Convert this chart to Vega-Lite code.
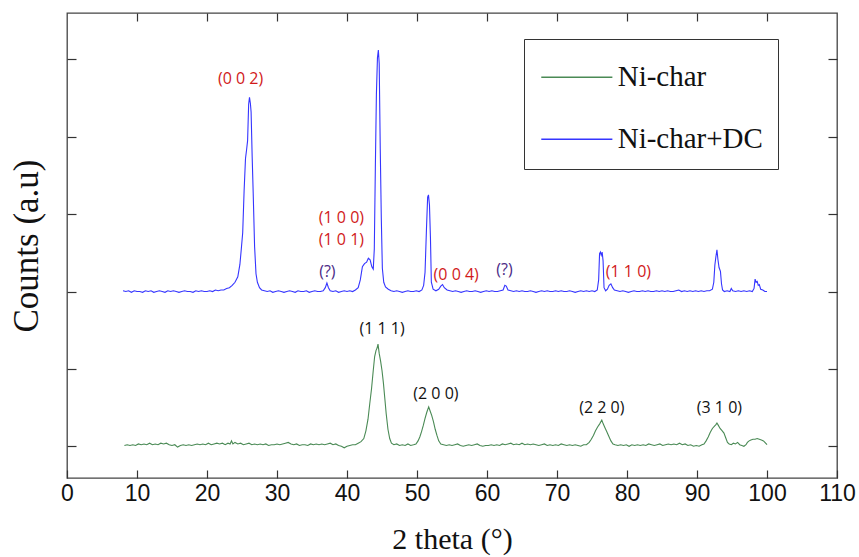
{
  "$schema": "https://vega.github.io/schema/vega-lite/v6.json",
  "autosize": {"type": "none"},
  "padding": {"left": 67, "top": 13, "right": 22, "bottom": 79},
  "width": 770,
  "height": 465,
  "background": "white",
  "config": {
    "view": {"stroke": "#444444", "strokeWidth": 1.3},
    "axis": {"domain": false, "grid": false, "tickColor": "#333333", "tickWidth": 1.2}
  },
  "datasets": {
    "annotations": [
      {"theta": 24.8, "counts": 4.75, "label": "(0 0 2)", "kind": "carbon"},
      {"theta": 39.2, "counts": 2.95, "label": "(1 0 0)", "kind": "carbon"},
      {"theta": 39.2, "counts": 2.67, "label": "(1 0 1)", "kind": "carbon"},
      {"theta": 37.2, "counts": 2.25, "label": "(?)", "kind": "unknown"},
      {"theta": 55.6, "counts": 2.21, "label": "(0 0 4)", "kind": "carbon"},
      {"theta": 62.5, "counts": 2.28, "label": "(?)", "kind": "unknown"},
      {"theta": 80.2, "counts": 2.25, "label": "(1 1 0)", "kind": "carbon"},
      {"theta": 45.0, "counts": 1.52, "label": "(1 1 1)", "kind": "nickel"},
      {"theta": 52.7, "counts": 0.68, "label": "(2 0 0)", "kind": "nickel"},
      {"theta": 76.4, "counts": 0.50, "label": "(2 2 0)", "kind": "nickel"},
      {"theta": 93.2, "counts": 0.50, "label": "(3 1 0)", "kind": "nickel"}
    ],
    "xrd": [
      {"theta":8.0,"counts":2.01,"sample":"Ni-char+DC"},{"theta":8.4,"counts":2.00,"sample":"Ni-char+DC"},{"theta":8.8,"counts":2.01,"sample":"Ni-char+DC"},{"theta":9.2,"counts":1.99,"sample":"Ni-char+DC"},{"theta":9.6,"counts":2.01,"sample":"Ni-char+DC"},{"theta":10.0,"counts":2.00,"sample":"Ni-char+DC"},{"theta":10.4,"counts":2.00,"sample":"Ni-char+DC"},{"theta":10.8,"counts":1.99,"sample":"Ni-char+DC"},{"theta":11.2,"counts":2.01,"sample":"Ni-char+DC"},{"theta":11.6,"counts":2.00,"sample":"Ni-char+DC"},{"theta":12.0,"counts":2.01,"sample":"Ni-char+DC"},{"theta":12.4,"counts":1.99,"sample":"Ni-char+DC"},{"theta":12.8,"counts":2.00,"sample":"Ni-char+DC"},{"theta":13.2,"counts":2.01,"sample":"Ni-char+DC"},{"theta":13.6,"counts":2.00,"sample":"Ni-char+DC"},{"theta":14.0,"counts":1.99,"sample":"Ni-char+DC"},{"theta":14.4,"counts":2.01,"sample":"Ni-char+DC"},{"theta":14.8,"counts":2.00,"sample":"Ni-char+DC"},{"theta":15.2,"counts":2.01,"sample":"Ni-char+DC"},{"theta":15.6,"counts":2.00,"sample":"Ni-char+DC"},{"theta":16.0,"counts":1.99,"sample":"Ni-char+DC"},{"theta":16.4,"counts":2.00,"sample":"Ni-char+DC"},{"theta":16.8,"counts":2.01,"sample":"Ni-char+DC"},{"theta":17.2,"counts":2.00,"sample":"Ni-char+DC"},{"theta":17.6,"counts":2.00,"sample":"Ni-char+DC"},{"theta":18.0,"counts":1.99,"sample":"Ni-char+DC"},{"theta":18.4,"counts":2.01,"sample":"Ni-char+DC"},{"theta":18.8,"counts":2.00,"sample":"Ni-char+DC"},{"theta":19.2,"counts":2.01,"sample":"Ni-char+DC"},{"theta":19.6,"counts":2.00,"sample":"Ni-char+DC"},{"theta":20.0,"counts":2.00,"sample":"Ni-char+DC"},{"theta":20.4,"counts":2.01,"sample":"Ni-char+DC"},{"theta":20.8,"counts":2.00,"sample":"Ni-char+DC"},{"theta":21.2,"counts":2.02,"sample":"Ni-char+DC"},{"theta":21.6,"counts":2.01,"sample":"Ni-char+DC"},{"theta":22.0,"counts":2.02,"sample":"Ni-char+DC"},{"theta":22.4,"counts":2.02,"sample":"Ni-char+DC"},{"theta":22.8,"counts":2.04,"sample":"Ni-char+DC"},{"theta":23.2,"counts":2.05,"sample":"Ni-char+DC"},{"theta":23.6,"counts":2.08,"sample":"Ni-char+DC"},{"theta":24.0,"counts":2.12,"sample":"Ni-char+DC"},{"theta":24.4,"counts":2.19,"sample":"Ni-char+DC"},{"theta":24.7,"counts":2.35,"sample":"Ni-char+DC"},{"theta":24.9,"counts":2.55,"sample":"Ni-char+DC"},{"theta":25.1,"counts":2.76,"sample":"Ni-char+DC"},{"theta":25.3,"counts":3.30,"sample":"Ni-char+DC"},{"theta":25.5,"counts":3.72,"sample":"Ni-char+DC"},{"theta":25.65,"counts":3.83,"sample":"Ni-char+DC"},{"theta":25.8,"counts":3.95,"sample":"Ni-char+DC"},{"theta":25.95,"counts":4.42,"sample":"Ni-char+DC"},{"theta":26.07,"counts":4.51,"sample":"Ni-char+DC"},{"theta":26.2,"counts":4.43,"sample":"Ni-char+DC"},{"theta":26.3,"counts":4.32,"sample":"Ni-char+DC"},{"theta":26.45,"counts":3.75,"sample":"Ni-char+DC"},{"theta":26.6,"counts":3.27,"sample":"Ni-char+DC"},{"theta":26.8,"counts":2.58,"sample":"Ni-char+DC"},{"theta":27.0,"counts":2.23,"sample":"Ni-char+DC"},{"theta":27.2,"counts":2.12,"sample":"Ni-char+DC"},{"theta":27.5,"counts":2.05,"sample":"Ni-char+DC"},{"theta":27.8,"counts":2.02,"sample":"Ni-char+DC"},{"theta":28.2,"counts":2.01,"sample":"Ni-char+DC"},{"theta":28.6,"counts":2.00,"sample":"Ni-char+DC"},{"theta":29.0,"counts":2.01,"sample":"Ni-char+DC"},{"theta":29.4,"counts":1.99,"sample":"Ni-char+DC"},{"theta":29.8,"counts":2.00,"sample":"Ni-char+DC"},{"theta":30.2,"counts":2.01,"sample":"Ni-char+DC"},{"theta":30.6,"counts":2.00,"sample":"Ni-char+DC"},{"theta":31.0,"counts":1.99,"sample":"Ni-char+DC"},{"theta":31.4,"counts":2.00,"sample":"Ni-char+DC"},{"theta":31.8,"counts":2.01,"sample":"Ni-char+DC"},{"theta":32.2,"counts":2.00,"sample":"Ni-char+DC"},{"theta":32.6,"counts":1.99,"sample":"Ni-char+DC"},{"theta":33.0,"counts":2.01,"sample":"Ni-char+DC"},{"theta":33.4,"counts":2.00,"sample":"Ni-char+DC"},{"theta":33.8,"counts":2.00,"sample":"Ni-char+DC"},{"theta":34.2,"counts":2.01,"sample":"Ni-char+DC"},{"theta":34.6,"counts":1.99,"sample":"Ni-char+DC"},{"theta":35.0,"counts":2.00,"sample":"Ni-char+DC"},{"theta":35.4,"counts":2.01,"sample":"Ni-char+DC"},{"theta":35.8,"counts":2.00,"sample":"Ni-char+DC"},{"theta":36.2,"counts":2.00,"sample":"Ni-char+DC"},{"theta":36.6,"counts":2.01,"sample":"Ni-char+DC"},{"theta":36.9,"counts":2.05,"sample":"Ni-char+DC"},{"theta":37.13,"counts":2.11,"sample":"Ni-char+DC"},{"theta":37.35,"counts":2.05,"sample":"Ni-char+DC"},{"theta":37.6,"counts":2.01,"sample":"Ni-char+DC"},{"theta":38.0,"counts":2.00,"sample":"Ni-char+DC"},{"theta":38.4,"counts":2.01,"sample":"Ni-char+DC"},{"theta":38.8,"counts":1.99,"sample":"Ni-char+DC"},{"theta":39.2,"counts":2.00,"sample":"Ni-char+DC"},{"theta":39.6,"counts":2.01,"sample":"Ni-char+DC"},{"theta":40.0,"counts":2.00,"sample":"Ni-char+DC"},{"theta":40.4,"counts":2.01,"sample":"Ni-char+DC"},{"theta":40.8,"counts":2.00,"sample":"Ni-char+DC"},{"theta":41.2,"counts":2.02,"sample":"Ni-char+DC"},{"theta":41.6,"counts":2.05,"sample":"Ni-char+DC"},{"theta":41.9,"counts":2.15,"sample":"Ni-char+DC"},{"theta":42.2,"counts":2.32,"sample":"Ni-char+DC"},{"theta":42.5,"counts":2.36,"sample":"Ni-char+DC"},{"theta":42.8,"counts":2.38,"sample":"Ni-char+DC"},{"theta":43.05,"counts":2.43,"sample":"Ni-char+DC"},{"theta":43.3,"counts":2.41,"sample":"Ni-char+DC"},{"theta":43.55,"counts":2.32,"sample":"Ni-char+DC"},{"theta":43.75,"counts":2.29,"sample":"Ni-char+DC"},{"theta":43.9,"counts":2.55,"sample":"Ni-char+DC"},{"theta":44.05,"counts":3.60,"sample":"Ni-char+DC"},{"theta":44.2,"counts":4.55,"sample":"Ni-char+DC"},{"theta":44.35,"counts":5.02,"sample":"Ni-char+DC"},{"theta":44.48,"counts":5.12,"sample":"Ni-char+DC"},{"theta":44.6,"counts":4.95,"sample":"Ni-char+DC"},{"theta":44.75,"counts":3.85,"sample":"Ni-char+DC"},{"theta":44.9,"counts":2.95,"sample":"Ni-char+DC"},{"theta":45.05,"counts":2.30,"sample":"Ni-char+DC"},{"theta":45.25,"counts":2.12,"sample":"Ni-char+DC"},{"theta":45.5,"counts":2.06,"sample":"Ni-char+DC"},{"theta":45.9,"counts":2.03,"sample":"Ni-char+DC"},{"theta":46.3,"counts":2.01,"sample":"Ni-char+DC"},{"theta":46.7,"counts":2.00,"sample":"Ni-char+DC"},{"theta":47.1,"counts":2.01,"sample":"Ni-char+DC"},{"theta":47.5,"counts":2.00,"sample":"Ni-char+DC"},{"theta":47.9,"counts":1.99,"sample":"Ni-char+DC"},{"theta":48.3,"counts":2.00,"sample":"Ni-char+DC"},{"theta":48.7,"counts":2.01,"sample":"Ni-char+DC"},{"theta":49.1,"counts":2.00,"sample":"Ni-char+DC"},{"theta":49.5,"counts":2.00,"sample":"Ni-char+DC"},{"theta":49.9,"counts":2.01,"sample":"Ni-char+DC"},{"theta":50.3,"counts":2.00,"sample":"Ni-char+DC"},{"theta":50.7,"counts":2.02,"sample":"Ni-char+DC"},{"theta":50.95,"counts":2.08,"sample":"Ni-char+DC"},{"theta":51.15,"counts":2.25,"sample":"Ni-char+DC"},{"theta":51.35,"counts":2.80,"sample":"Ni-char+DC"},{"theta":51.52,"counts":3.22,"sample":"Ni-char+DC"},{"theta":51.64,"counts":3.25,"sample":"Ni-char+DC"},{"theta":51.78,"counts":3.12,"sample":"Ni-char+DC"},{"theta":51.92,"counts":2.70,"sample":"Ni-char+DC"},{"theta":52.05,"counts":2.12,"sample":"Ni-char+DC"},{"theta":52.3,"counts":2.03,"sample":"Ni-char+DC"},{"theta":52.7,"counts":2.01,"sample":"Ni-char+DC"},{"theta":53.1,"counts":2.03,"sample":"Ni-char+DC"},{"theta":53.4,"counts":2.07,"sample":"Ni-char+DC"},{"theta":53.65,"counts":2.09,"sample":"Ni-char+DC"},{"theta":53.9,"counts":2.05,"sample":"Ni-char+DC"},{"theta":54.3,"counts":2.02,"sample":"Ni-char+DC"},{"theta":54.7,"counts":2.01,"sample":"Ni-char+DC"},{"theta":55.1,"counts":2.00,"sample":"Ni-char+DC"},{"theta":55.5,"counts":2.01,"sample":"Ni-char+DC"},{"theta":55.9,"counts":2.00,"sample":"Ni-char+DC"},{"theta":56.3,"counts":1.99,"sample":"Ni-char+DC"},{"theta":56.7,"counts":2.00,"sample":"Ni-char+DC"},{"theta":57.1,"counts":2.01,"sample":"Ni-char+DC"},{"theta":57.5,"counts":2.00,"sample":"Ni-char+DC"},{"theta":57.9,"counts":2.00,"sample":"Ni-char+DC"},{"theta":58.3,"counts":2.01,"sample":"Ni-char+DC"},{"theta":58.7,"counts":2.00,"sample":"Ni-char+DC"},{"theta":59.1,"counts":1.99,"sample":"Ni-char+DC"},{"theta":59.5,"counts":2.00,"sample":"Ni-char+DC"},{"theta":59.9,"counts":2.01,"sample":"Ni-char+DC"},{"theta":60.3,"counts":2.00,"sample":"Ni-char+DC"},{"theta":60.7,"counts":2.01,"sample":"Ni-char+DC"},{"theta":61.1,"counts":2.00,"sample":"Ni-char+DC"},{"theta":61.5,"counts":2.00,"sample":"Ni-char+DC"},{"theta":61.9,"counts":2.01,"sample":"Ni-char+DC"},{"theta":62.3,"counts":2.02,"sample":"Ni-char+DC"},{"theta":62.55,"counts":2.08,"sample":"Ni-char+DC"},{"theta":62.75,"counts":2.07,"sample":"Ni-char+DC"},{"theta":63.0,"counts":2.02,"sample":"Ni-char+DC"},{"theta":63.4,"counts":2.01,"sample":"Ni-char+DC"},{"theta":63.8,"counts":2.00,"sample":"Ni-char+DC"},{"theta":64.2,"counts":2.01,"sample":"Ni-char+DC"},{"theta":64.6,"counts":2.00,"sample":"Ni-char+DC"},{"theta":65.0,"counts":2.01,"sample":"Ni-char+DC"},{"theta":65.4,"counts":2.00,"sample":"Ni-char+DC"},{"theta":65.8,"counts":2.00,"sample":"Ni-char+DC"},{"theta":66.2,"counts":2.01,"sample":"Ni-char+DC"},{"theta":66.6,"counts":2.00,"sample":"Ni-char+DC"},{"theta":67.0,"counts":1.99,"sample":"Ni-char+DC"},{"theta":67.4,"counts":2.00,"sample":"Ni-char+DC"},{"theta":67.8,"counts":2.01,"sample":"Ni-char+DC"},{"theta":68.2,"counts":2.00,"sample":"Ni-char+DC"},{"theta":68.6,"counts":2.01,"sample":"Ni-char+DC"},{"theta":69.0,"counts":2.00,"sample":"Ni-char+DC"},{"theta":69.4,"counts":2.00,"sample":"Ni-char+DC"},{"theta":69.8,"counts":2.01,"sample":"Ni-char+DC"},{"theta":70.2,"counts":2.00,"sample":"Ni-char+DC"},{"theta":70.6,"counts":2.01,"sample":"Ni-char+DC"},{"theta":71.0,"counts":2.00,"sample":"Ni-char+DC"},{"theta":71.4,"counts":2.00,"sample":"Ni-char+DC"},{"theta":71.8,"counts":2.01,"sample":"Ni-char+DC"},{"theta":72.2,"counts":2.00,"sample":"Ni-char+DC"},{"theta":72.6,"counts":1.99,"sample":"Ni-char+DC"},{"theta":73.0,"counts":2.00,"sample":"Ni-char+DC"},{"theta":73.4,"counts":2.01,"sample":"Ni-char+DC"},{"theta":73.8,"counts":2.00,"sample":"Ni-char+DC"},{"theta":74.2,"counts":2.01,"sample":"Ni-char+DC"},{"theta":74.6,"counts":2.00,"sample":"Ni-char+DC"},{"theta":75.0,"counts":2.01,"sample":"Ni-char+DC"},{"theta":75.4,"counts":2.00,"sample":"Ni-char+DC"},{"theta":75.75,"counts":2.02,"sample":"Ni-char+DC"},{"theta":75.95,"counts":2.15,"sample":"Ni-char+DC"},{"theta":76.08,"counts":2.49,"sample":"Ni-char+DC"},{"theta":76.2,"counts":2.51,"sample":"Ni-char+DC"},{"theta":76.32,"counts":2.47,"sample":"Ni-char+DC"},{"theta":76.45,"counts":2.51,"sample":"Ni-char+DC"},{"theta":76.58,"counts":2.40,"sample":"Ni-char+DC"},{"theta":76.72,"counts":2.05,"sample":"Ni-char+DC"},{"theta":76.95,"counts":2.01,"sample":"Ni-char+DC"},{"theta":77.2,"counts":2.03,"sample":"Ni-char+DC"},{"theta":77.45,"counts":2.08,"sample":"Ni-char+DC"},{"theta":77.7,"counts":2.10,"sample":"Ni-char+DC"},{"theta":77.95,"counts":2.05,"sample":"Ni-char+DC"},{"theta":78.2,"counts":2.02,"sample":"Ni-char+DC"},{"theta":78.6,"counts":2.01,"sample":"Ni-char+DC"},{"theta":79.0,"counts":2.00,"sample":"Ni-char+DC"},{"theta":79.4,"counts":2.01,"sample":"Ni-char+DC"},{"theta":79.8,"counts":2.00,"sample":"Ni-char+DC"},{"theta":80.2,"counts":1.99,"sample":"Ni-char+DC"},{"theta":80.6,"counts":2.00,"sample":"Ni-char+DC"},{"theta":81.0,"counts":2.01,"sample":"Ni-char+DC"},{"theta":81.4,"counts":2.00,"sample":"Ni-char+DC"},{"theta":81.8,"counts":2.00,"sample":"Ni-char+DC"},{"theta":82.2,"counts":2.01,"sample":"Ni-char+DC"},{"theta":82.6,"counts":2.00,"sample":"Ni-char+DC"},{"theta":83.0,"counts":2.01,"sample":"Ni-char+DC"},{"theta":83.4,"counts":2.00,"sample":"Ni-char+DC"},{"theta":83.8,"counts":2.00,"sample":"Ni-char+DC"},{"theta":84.2,"counts":2.01,"sample":"Ni-char+DC"},{"theta":84.6,"counts":2.00,"sample":"Ni-char+DC"},{"theta":85.0,"counts":2.01,"sample":"Ni-char+DC"},{"theta":85.4,"counts":2.00,"sample":"Ni-char+DC"},{"theta":85.8,"counts":2.01,"sample":"Ni-char+DC"},{"theta":86.2,"counts":2.00,"sample":"Ni-char+DC"},{"theta":86.6,"counts":2.00,"sample":"Ni-char+DC"},{"theta":87.0,"counts":2.01,"sample":"Ni-char+DC"},{"theta":87.4,"counts":2.02,"sample":"Ni-char+DC"},{"theta":87.8,"counts":2.00,"sample":"Ni-char+DC"},{"theta":88.2,"counts":2.01,"sample":"Ni-char+DC"},{"theta":88.6,"counts":2.00,"sample":"Ni-char+DC"},{"theta":89.0,"counts":2.01,"sample":"Ni-char+DC"},{"theta":89.4,"counts":2.00,"sample":"Ni-char+DC"},{"theta":89.8,"counts":2.01,"sample":"Ni-char+DC"},{"theta":90.2,"counts":2.00,"sample":"Ni-char+DC"},{"theta":90.6,"counts":2.01,"sample":"Ni-char+DC"},{"theta":91.0,"counts":2.00,"sample":"Ni-char+DC"},{"theta":91.4,"counts":2.01,"sample":"Ni-char+DC"},{"theta":91.8,"counts":2.01,"sample":"Ni-char+DC"},{"theta":92.2,"counts":2.03,"sample":"Ni-char+DC"},{"theta":92.4,"counts":2.12,"sample":"Ni-char+DC"},{"theta":92.55,"counts":2.34,"sample":"Ni-char+DC"},{"theta":92.7,"counts":2.45,"sample":"Ni-char+DC"},{"theta":92.85,"counts":2.54,"sample":"Ni-char+DC"},{"theta":92.98,"counts":2.42,"sample":"Ni-char+DC"},{"theta":93.15,"counts":2.31,"sample":"Ni-char+DC"},{"theta":93.35,"counts":2.26,"sample":"Ni-char+DC"},{"theta":93.5,"counts":2.10,"sample":"Ni-char+DC"},{"theta":93.65,"counts":2.02,"sample":"Ni-char+DC"},{"theta":93.9,"counts":2.00,"sample":"Ni-char+DC"},{"theta":94.3,"counts":2.01,"sample":"Ni-char+DC"},{"theta":94.7,"counts":2.00,"sample":"Ni-char+DC"},{"theta":94.9,"counts":2.04,"sample":"Ni-char+DC"},{"theta":95.1,"counts":2.01,"sample":"Ni-char+DC"},{"theta":95.5,"counts":2.00,"sample":"Ni-char+DC"},{"theta":95.9,"counts":2.01,"sample":"Ni-char+DC"},{"theta":96.3,"counts":2.00,"sample":"Ni-char+DC"},{"theta":96.7,"counts":2.01,"sample":"Ni-char+DC"},{"theta":97.1,"counts":2.00,"sample":"Ni-char+DC"},{"theta":97.5,"counts":2.01,"sample":"Ni-char+DC"},{"theta":97.9,"counts":2.00,"sample":"Ni-char+DC"},{"theta":98.15,"counts":2.04,"sample":"Ni-char+DC"},{"theta":98.3,"counts":2.16,"sample":"Ni-char+DC"},{"theta":98.45,"counts":2.12,"sample":"Ni-char+DC"},{"theta":98.6,"counts":2.13,"sample":"Ni-char+DC"},{"theta":98.75,"counts":2.08,"sample":"Ni-char+DC"},{"theta":98.9,"counts":2.09,"sample":"Ni-char+DC"},{"theta":99.1,"counts":2.03,"sample":"Ni-char+DC"},{"theta":99.4,"counts":2.02,"sample":"Ni-char+DC"},{"theta":99.7,"counts":2.00,"sample":"Ni-char+DC"},{"theta":100.0,"counts":2.00,"sample":"Ni-char+DC"},
      {"theta":8.2,"counts":0.01,"sample":"Ni-char"},{"theta":8.6,"counts":0.02,"sample":"Ni-char"},{"theta":9.0,"counts":0.01,"sample":"Ni-char"},{"theta":9.4,"counts":0.02,"sample":"Ni-char"},{"theta":9.8,"counts":0.01,"sample":"Ni-char"},{"theta":10.2,"counts":0.03,"sample":"Ni-char"},{"theta":10.6,"counts":0.02,"sample":"Ni-char"},{"theta":11.0,"counts":0.03,"sample":"Ni-char"},{"theta":11.4,"counts":0.02,"sample":"Ni-char"},{"theta":11.8,"counts":0.04,"sample":"Ni-char"},{"theta":12.2,"counts":0.02,"sample":"Ni-char"},{"theta":12.6,"counts":0.03,"sample":"Ni-char"},{"theta":13.0,"counts":0.02,"sample":"Ni-char"},{"theta":13.4,"counts":0.04,"sample":"Ni-char"},{"theta":13.8,"counts":0.03,"sample":"Ni-char"},{"theta":14.2,"counts":0.04,"sample":"Ni-char"},{"theta":14.6,"counts":0.02,"sample":"Ni-char"},{"theta":15.0,"counts":0.01,"sample":"Ni-char"},{"theta":15.4,"counts":0.02,"sample":"Ni-char"},{"theta":15.8,"counts":-0.01,"sample":"Ni-char"},{"theta":16.2,"counts":0.01,"sample":"Ni-char"},{"theta":16.6,"counts":0.02,"sample":"Ni-char"},{"theta":17.0,"counts":0.01,"sample":"Ni-char"},{"theta":17.4,"counts":0.02,"sample":"Ni-char"},{"theta":17.8,"counts":0.01,"sample":"Ni-char"},{"theta":18.2,"counts":0.02,"sample":"Ni-char"},{"theta":18.6,"counts":0.03,"sample":"Ni-char"},{"theta":19.0,"counts":0.02,"sample":"Ni-char"},{"theta":19.4,"counts":0.03,"sample":"Ni-char"},{"theta":19.8,"counts":0.02,"sample":"Ni-char"},{"theta":20.2,"counts":0.04,"sample":"Ni-char"},{"theta":20.6,"counts":0.02,"sample":"Ni-char"},{"theta":21.0,"counts":0.03,"sample":"Ni-char"},{"theta":21.4,"counts":0.04,"sample":"Ni-char"},{"theta":21.8,"counts":0.03,"sample":"Ni-char"},{"theta":22.2,"counts":0.04,"sample":"Ni-char"},{"theta":22.6,"counts":0.02,"sample":"Ni-char"},{"theta":23.0,"counts":0.04,"sample":"Ni-char"},{"theta":23.3,"counts":0.03,"sample":"Ni-char"},{"theta":23.5,"counts":0.07,"sample":"Ni-char"},{"theta":23.7,"counts":0.03,"sample":"Ni-char"},{"theta":24.0,"counts":0.05,"sample":"Ni-char"},{"theta":24.4,"counts":0.03,"sample":"Ni-char"},{"theta":24.8,"counts":0.04,"sample":"Ni-char"},{"theta":25.2,"counts":0.02,"sample":"Ni-char"},{"theta":25.6,"counts":0.03,"sample":"Ni-char"},{"theta":26.0,"counts":0.04,"sample":"Ni-char"},{"theta":26.4,"counts":0.02,"sample":"Ni-char"},{"theta":26.8,"counts":0.03,"sample":"Ni-char"},{"theta":27.2,"counts":0.02,"sample":"Ni-char"},{"theta":27.6,"counts":0.03,"sample":"Ni-char"},{"theta":28.0,"counts":0.02,"sample":"Ni-char"},{"theta":28.4,"counts":0.03,"sample":"Ni-char"},{"theta":28.8,"counts":0.01,"sample":"Ni-char"},{"theta":29.2,"counts":0.02,"sample":"Ni-char"},{"theta":29.6,"counts":0.02,"sample":"Ni-char"},{"theta":30.0,"counts":0.03,"sample":"Ni-char"},{"theta":30.4,"counts":0.02,"sample":"Ni-char"},{"theta":30.8,"counts":0.03,"sample":"Ni-char"},{"theta":31.2,"counts":0.04,"sample":"Ni-char"},{"theta":31.6,"counts":0.05,"sample":"Ni-char"},{"theta":32.0,"counts":0.03,"sample":"Ni-char"},{"theta":32.4,"counts":0.02,"sample":"Ni-char"},{"theta":32.8,"counts":0.03,"sample":"Ni-char"},{"theta":33.2,"counts":0.01,"sample":"Ni-char"},{"theta":33.6,"counts":0.02,"sample":"Ni-char"},{"theta":34.0,"counts":0.02,"sample":"Ni-char"},{"theta":34.4,"counts":0.01,"sample":"Ni-char"},{"theta":34.8,"counts":0.03,"sample":"Ni-char"},{"theta":35.2,"counts":0.02,"sample":"Ni-char"},{"theta":35.6,"counts":0.03,"sample":"Ni-char"},{"theta":36.0,"counts":0.02,"sample":"Ni-char"},{"theta":36.4,"counts":0.03,"sample":"Ni-char"},{"theta":36.8,"counts":0.02,"sample":"Ni-char"},{"theta":37.2,"counts":0.03,"sample":"Ni-char"},{"theta":37.6,"counts":0.04,"sample":"Ni-char"},{"theta":38.0,"counts":0.02,"sample":"Ni-char"},{"theta":38.4,"counts":0.03,"sample":"Ni-char"},{"theta":38.8,"counts":0.01,"sample":"Ni-char"},{"theta":39.2,"counts":0.00,"sample":"Ni-char"},{"theta":39.6,"counts":-0.02,"sample":"Ni-char"},{"theta":40.0,"counts":0.00,"sample":"Ni-char"},{"theta":40.4,"counts":0.01,"sample":"Ni-char"},{"theta":40.8,"counts":0.02,"sample":"Ni-char"},{"theta":41.2,"counts":0.02,"sample":"Ni-char"},{"theta":41.6,"counts":0.04,"sample":"Ni-char"},{"theta":42.0,"counts":0.06,"sample":"Ni-char"},{"theta":42.4,"counts":0.10,"sample":"Ni-char"},{"theta":42.7,"counts":0.20,"sample":"Ni-char"},{"theta":43.0,"counts":0.35,"sample":"Ni-char"},{"theta":43.25,"counts":0.55,"sample":"Ni-char"},{"theta":43.5,"counts":0.74,"sample":"Ni-char"},{"theta":43.75,"counts":0.98,"sample":"Ni-char"},{"theta":43.95,"counts":1.16,"sample":"Ni-char"},{"theta":44.15,"counts":1.24,"sample":"Ni-char"},{"theta":44.3,"counts":1.27,"sample":"Ni-char"},{"theta":44.43,"counts":1.32,"sample":"Ni-char"},{"theta":44.6,"counts":1.20,"sample":"Ni-char"},{"theta":44.8,"counts":1.10,"sample":"Ni-char"},{"theta":45.0,"counts":0.98,"sample":"Ni-char"},{"theta":45.2,"counts":0.82,"sample":"Ni-char"},{"theta":45.4,"counts":0.62,"sample":"Ni-char"},{"theta":45.6,"counts":0.42,"sample":"Ni-char"},{"theta":45.85,"counts":0.22,"sample":"Ni-char"},{"theta":46.1,"counts":0.10,"sample":"Ni-char"},{"theta":46.35,"counts":0.04,"sample":"Ni-char"},{"theta":46.7,"counts":0.02,"sample":"Ni-char"},{"theta":47.1,"counts":0.03,"sample":"Ni-char"},{"theta":47.5,"counts":0.01,"sample":"Ni-char"},{"theta":47.9,"counts":0.02,"sample":"Ni-char"},{"theta":48.3,"counts":0.01,"sample":"Ni-char"},{"theta":48.7,"counts":0.03,"sample":"Ni-char"},{"theta":49.1,"counts":0.01,"sample":"Ni-char"},{"theta":49.5,"counts":0.02,"sample":"Ni-char"},{"theta":49.85,"counts":0.03,"sample":"Ni-char"},{"theta":50.15,"counts":0.07,"sample":"Ni-char"},{"theta":50.4,"counts":0.12,"sample":"Ni-char"},{"theta":50.65,"counts":0.19,"sample":"Ni-char"},{"theta":50.9,"counts":0.27,"sample":"Ni-char"},{"theta":51.15,"counts":0.36,"sample":"Ni-char"},{"theta":51.4,"counts":0.44,"sample":"Ni-char"},{"theta":51.67,"counts":0.51,"sample":"Ni-char"},{"theta":51.9,"counts":0.45,"sample":"Ni-char"},{"theta":52.1,"counts":0.40,"sample":"Ni-char"},{"theta":52.35,"counts":0.32,"sample":"Ni-char"},{"theta":52.6,"counts":0.22,"sample":"Ni-char"},{"theta":52.85,"counts":0.14,"sample":"Ni-char"},{"theta":53.1,"counts":0.07,"sample":"Ni-char"},{"theta":53.4,"counts":0.03,"sample":"Ni-char"},{"theta":53.8,"counts":0.02,"sample":"Ni-char"},{"theta":54.2,"counts":0.01,"sample":"Ni-char"},{"theta":54.6,"counts":0.02,"sample":"Ni-char"},{"theta":55.0,"counts":0.01,"sample":"Ni-char"},{"theta":55.4,"counts":0.02,"sample":"Ni-char"},{"theta":55.8,"counts":0.03,"sample":"Ni-char"},{"theta":56.2,"counts":0.01,"sample":"Ni-char"},{"theta":56.6,"counts":0.00,"sample":"Ni-char"},{"theta":57.0,"counts":0.01,"sample":"Ni-char"},{"theta":57.4,"counts":0.02,"sample":"Ni-char"},{"theta":57.8,"counts":0.01,"sample":"Ni-char"},{"theta":58.2,"counts":0.02,"sample":"Ni-char"},{"theta":58.6,"counts":0.03,"sample":"Ni-char"},{"theta":59.0,"counts":0.01,"sample":"Ni-char"},{"theta":59.4,"counts":0.00,"sample":"Ni-char"},{"theta":59.8,"counts":0.01,"sample":"Ni-char"},{"theta":60.2,"counts":0.01,"sample":"Ni-char"},{"theta":60.6,"counts":0.02,"sample":"Ni-char"},{"theta":61.0,"counts":0.01,"sample":"Ni-char"},{"theta":61.4,"counts":0.02,"sample":"Ni-char"},{"theta":61.8,"counts":0.01,"sample":"Ni-char"},{"theta":62.2,"counts":0.03,"sample":"Ni-char"},{"theta":62.6,"counts":0.02,"sample":"Ni-char"},{"theta":63.0,"counts":0.03,"sample":"Ni-char"},{"theta":63.4,"counts":0.04,"sample":"Ni-char"},{"theta":63.8,"counts":0.02,"sample":"Ni-char"},{"theta":64.2,"counts":0.03,"sample":"Ni-char"},{"theta":64.6,"counts":0.02,"sample":"Ni-char"},{"theta":65.0,"counts":0.04,"sample":"Ni-char"},{"theta":65.4,"counts":0.02,"sample":"Ni-char"},{"theta":65.8,"counts":0.03,"sample":"Ni-char"},{"theta":66.2,"counts":0.02,"sample":"Ni-char"},{"theta":66.6,"counts":0.03,"sample":"Ni-char"},{"theta":67.0,"counts":0.02,"sample":"Ni-char"},{"theta":67.4,"counts":0.01,"sample":"Ni-char"},{"theta":67.8,"counts":0.02,"sample":"Ni-char"},{"theta":68.2,"counts":0.03,"sample":"Ni-char"},{"theta":68.6,"counts":0.01,"sample":"Ni-char"},{"theta":69.0,"counts":0.02,"sample":"Ni-char"},{"theta":69.4,"counts":0.01,"sample":"Ni-char"},{"theta":69.8,"counts":0.02,"sample":"Ni-char"},{"theta":70.2,"counts":0.01,"sample":"Ni-char"},{"theta":70.6,"counts":0.03,"sample":"Ni-char"},{"theta":71.0,"counts":0.02,"sample":"Ni-char"},{"theta":71.4,"counts":0.01,"sample":"Ni-char"},{"theta":71.8,"counts":0.02,"sample":"Ni-char"},{"theta":72.2,"counts":0.01,"sample":"Ni-char"},{"theta":72.6,"counts":0.02,"sample":"Ni-char"},{"theta":73.0,"counts":0.01,"sample":"Ni-char"},{"theta":73.4,"counts":0.00,"sample":"Ni-char"},{"theta":73.8,"counts":0.02,"sample":"Ni-char"},{"theta":74.2,"counts":0.02,"sample":"Ni-char"},{"theta":74.6,"counts":0.05,"sample":"Ni-char"},{"theta":74.9,"counts":0.09,"sample":"Ni-char"},{"theta":75.2,"counts":0.14,"sample":"Ni-char"},{"theta":75.5,"counts":0.20,"sample":"Ni-char"},{"theta":75.8,"counts":0.25,"sample":"Ni-char"},{"theta":76.1,"counts":0.29,"sample":"Ni-char"},{"theta":76.4,"counts":0.34,"sample":"Ni-char"},{"theta":76.6,"counts":0.29,"sample":"Ni-char"},{"theta":76.85,"counts":0.24,"sample":"Ni-char"},{"theta":77.1,"counts":0.19,"sample":"Ni-char"},{"theta":77.4,"counts":0.13,"sample":"Ni-char"},{"theta":77.7,"counts":0.07,"sample":"Ni-char"},{"theta":78.0,"counts":0.03,"sample":"Ni-char"},{"theta":78.3,"counts":0.02,"sample":"Ni-char"},{"theta":78.7,"counts":0.01,"sample":"Ni-char"},{"theta":79.1,"counts":0.02,"sample":"Ni-char"},{"theta":79.5,"counts":0.01,"sample":"Ni-char"},{"theta":79.9,"counts":0.02,"sample":"Ni-char"},{"theta":80.3,"counts":0.00,"sample":"Ni-char"},{"theta":80.7,"counts":0.02,"sample":"Ni-char"},{"theta":81.1,"counts":0.01,"sample":"Ni-char"},{"theta":81.5,"counts":0.02,"sample":"Ni-char"},{"theta":81.9,"counts":0.01,"sample":"Ni-char"},{"theta":82.3,"counts":0.02,"sample":"Ni-char"},{"theta":82.7,"counts":0.01,"sample":"Ni-char"},{"theta":83.1,"counts":0.03,"sample":"Ni-char"},{"theta":83.5,"counts":0.02,"sample":"Ni-char"},{"theta":83.9,"counts":0.01,"sample":"Ni-char"},{"theta":84.3,"counts":0.02,"sample":"Ni-char"},{"theta":84.7,"counts":0.03,"sample":"Ni-char"},{"theta":85.1,"counts":0.01,"sample":"Ni-char"},{"theta":85.5,"counts":0.02,"sample":"Ni-char"},{"theta":85.9,"counts":0.03,"sample":"Ni-char"},{"theta":86.3,"counts":0.02,"sample":"Ni-char"},{"theta":86.7,"counts":0.03,"sample":"Ni-char"},{"theta":87.1,"counts":0.02,"sample":"Ni-char"},{"theta":87.5,"counts":0.04,"sample":"Ni-char"},{"theta":87.9,"counts":0.02,"sample":"Ni-char"},{"theta":88.3,"counts":0.03,"sample":"Ni-char"},{"theta":88.7,"counts":0.01,"sample":"Ni-char"},{"theta":89.1,"counts":0.02,"sample":"Ni-char"},{"theta":89.5,"counts":0.00,"sample":"Ni-char"},{"theta":89.9,"counts":0.01,"sample":"Ni-char"},{"theta":90.3,"counts":0.00,"sample":"Ni-char"},{"theta":90.7,"counts":0.02,"sample":"Ni-char"},{"theta":91.0,"counts":0.03,"sample":"Ni-char"},{"theta":91.3,"counts":0.07,"sample":"Ni-char"},{"theta":91.6,"counts":0.12,"sample":"Ni-char"},{"theta":91.9,"counts":0.18,"sample":"Ni-char"},{"theta":92.2,"counts":0.23,"sample":"Ni-char"},{"theta":92.5,"counts":0.26,"sample":"Ni-char"},{"theta":92.7,"counts":0.28,"sample":"Ni-char"},{"theta":92.85,"counts":0.30,"sample":"Ni-char"},{"theta":93.05,"counts":0.27,"sample":"Ni-char"},{"theta":93.3,"counts":0.23,"sample":"Ni-char"},{"theta":93.6,"counts":0.20,"sample":"Ni-char"},{"theta":93.85,"counts":0.17,"sample":"Ni-char"},{"theta":94.1,"counts":0.11,"sample":"Ni-char"},{"theta":94.35,"counts":0.05,"sample":"Ni-char"},{"theta":94.6,"counts":0.03,"sample":"Ni-char"},{"theta":94.9,"counts":0.02,"sample":"Ni-char"},{"theta":95.2,"counts":0.04,"sample":"Ni-char"},{"theta":95.5,"counts":0.03,"sample":"Ni-char"},{"theta":95.8,"counts":0.05,"sample":"Ni-char"},{"theta":96.1,"counts":0.02,"sample":"Ni-char"},{"theta":96.4,"counts":0.01,"sample":"Ni-char"},{"theta":96.7,"counts":0.00,"sample":"Ni-char"},{"theta":97.0,"counts":0.02,"sample":"Ni-char"},{"theta":97.2,"counts":0.05,"sample":"Ni-char"},{"theta":97.45,"counts":0.07,"sample":"Ni-char"},{"theta":97.7,"counts":0.08,"sample":"Ni-char"},{"theta":98.0,"counts":0.09,"sample":"Ni-char"},{"theta":98.3,"counts":0.09,"sample":"Ni-char"},{"theta":98.6,"counts":0.10,"sample":"Ni-char"},{"theta":98.9,"counts":0.09,"sample":"Ni-char"},{"theta":99.2,"counts":0.08,"sample":"Ni-char"},{"theta":99.5,"counts":0.07,"sample":"Ni-char"},{"theta":99.8,"counts":0.04,"sample":"Ni-char"},{"theta":100.0,"counts":0.02,"sample":"Ni-char"}
    ]
  },
  "layer": [
    {
      "data": {"name": "xrd"},
      "mark": {"type": "line", "strokeWidth": 1.1, "interpolate": "linear"},
      "encoding": {
        "x": {
          "field": "theta", "type": "quantitative",
          "scale": {"domain": [0, 110], "nice": false, "zero": false},
          "axis": {
            "orient": "bottom", "values": [0,10,20,30,40,50,60,70,80,90,100,110],
            "tickSize": -8, "labelPadding": 12, "labelFont": "Liberation Sans", "labelFontSize": 23,
            "labelColor": "#111111", "labelFlush": false, "labelOverlap": false,
            "title": "2 theta (°)", "titleFont": "Liberation Serif", "titleFontSize": 30,
            "titleFontWeight": "normal", "titleColor": "#111111", "titlePadding": 19
          }
        },
        "y": {
          "field": "counts", "type": "quantitative",
          "scale": {"domain": [-0.41, 5.6], "nice": false, "zero": false},
          "axis": {
            "orient": "left", "values": [0,1,2,3,4,5], "tickSize": -9, "labels": false,
            "title": "Counts (a.u)", "titleFont": "Liberation Serif", "titleFontSize": 35,
            "titleFontWeight": "normal", "titleColor": "#111111", "titlePadding": 22
          }
        },
        "color": {
          "field": "sample", "type": "nominal",
          "scale": {"domain": ["Ni-char", "Ni-char+DC"], "range": ["#4a8a55", "#3535ff"]},
          "legend": {
            "title": null, "orient": "none", "legendX": 457, "legendY": 26,
            "direction": "vertical", "padding": 14.7, "rowPadding": 23,
            "strokeColor": "#333333", "fillColor": "#ffffff",
            "symbolType": "M-0.93,0H2.23", "symbolSize": 2025, "symbolStrokeWidth": 1.4,
            "labelFont": "Liberation Serif", "labelFontSize": 29, "labelColor": "#111111",
            "labelOffset": 32, "labelLimit": 400
          }
        },
        "detail": {"field": "sample"}
      }
    },
    {
      "data": {"name": "xrd"},
      "mark": {"type": "point", "opacity": 0, "size": 1},
      "encoding": {
        "x": {
          "field": "theta", "type": "quantitative",
          "axis": {"orient": "top", "values": [10,20,30,40,50,60,70,80,90,100], "tickSize": -8, "labels": false, "title": null}
        },
        "y": {
          "field": "counts", "type": "quantitative",
          "axis": {"orient": "right", "values": [0,1,2,3,4,5], "tickSize": -9, "labels": false, "title": null}
        }
      }
    },
    {
      "data": {"name": "annotations"},
      "mark": {"type": "text", "font": "Open Sans", "fontSize": 16, "align": "center", "baseline": "middle"},
      "encoding": {
        "x": {"field": "theta", "type": "quantitative", "axis": null},
        "y": {"field": "counts", "type": "quantitative", "axis": null},
        "text": {"field": "label"},
        "color": {
          "field": "kind", "type": "nominal",
          "scale": {"domain": ["carbon", "unknown", "nickel"], "range": ["#d11a1a", "#4b2a86", "#111111"]},
          "legend": null
        }
      }
    }
  ],
  "resolve": {"scale": {"color": "independent"}, "axis": {"x": "independent", "y": "independent"}}
}
